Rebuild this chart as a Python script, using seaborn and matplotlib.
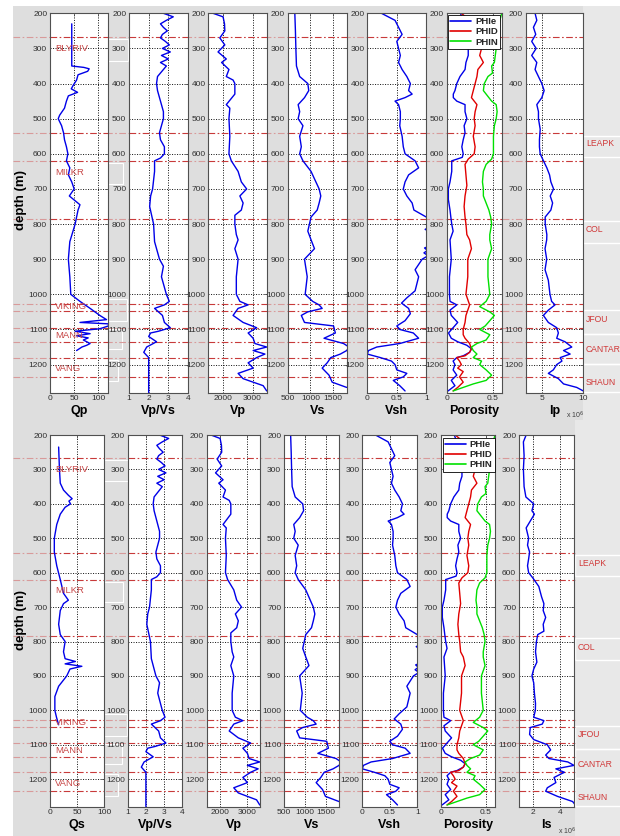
import numpy as np
import matplotlib
matplotlib.use("Agg")
import matplotlib.pyplot as plt
import matplotlib.transforms as mtransforms
from matplotlib.lines import Line2D
from matplotlib.patches import Rectangle
import seaborn as sns

# ---------------- data ----------------
Qp_depth = [230, 350, 354, 358, 365, 375, 390, 405, 415, 425, 435, 450, 470, 490, 500, 520, 540, 560, 580, 600,
            620, 640, 660, 680, 700, 720, 745, 760, 780, 800, 850, 900, 950, 1000, 1020, 1040, 1060, 1072, 1080, 1084,
            1090, 1098, 1105, 1112, 1118, 1124, 1130, 1140, 1145, 1150, 1160]
Qp_vals = [45, 45, 70, 81, 78, 58, 55, 48, 44, 57, 38, 34, 30, 20, 17, 24, 28, 30, 34, 37,
           34, 41, 38, 45, 50, 40, 62, 58, 55, 52, 41, 38, 41, 43, 62, 83, 103, 117, 62, 121,
           121, 103, 52, 83, 55, 79, 69, 83, 76, 66, 55]

Qs_depth = [235, 300, 340, 360, 375, 385, 392, 400, 410, 430, 460, 500, 540, 580, 620, 640, 660, 680, 690, 710,
            750, 780, 800, 830, 850, 858, 865, 872, 880, 900, 930, 960, 1000, 1020, 1042]
Qs_vals = [16, 17.5, 19, 25, 34, 41, 35, 38, 28, 19, 12.5, 8, 8, 12.5, 19, 22, 25, 34, 25, 19,
           16, 19, 28, 25, 28, 47, 28, 59, 37, 31, 16, 9, 9, 12, 16]

VpVs_depth = [200, 210, 220, 230, 240, 250, 260, 270, 280, 290, 300, 310, 320, 330, 340, 350, 360, 380, 400, 420,
              440, 460, 480, 500, 520, 540, 560, 580, 600, 612, 620, 650, 700, 720, 750, 800, 850, 900, 920, 950,
              1000, 1020, 1030, 1040, 1060, 1080, 1095, 1105, 1110, 1120, 1135, 1150, 1165, 1180, 1280]
VpVs_vals = [2.75, 3.25, 2.9, 2.6, 2.75, 2.95, 2.7, 2.6, 2.85, 3.05, 2.7, 3.1, 2.65, 3.0, 2.6, 2.9, 2.75, 2.45, 2.4, 2.45,
             2.55, 2.65, 2.75, 2.75, 2.65, 2.55, 2.6, 2.8, 2.8, 2.6, 2.3, 2.3, 2.2, 2.1, 2.05, 2.25, 2.3, 2.55, 2.75, 2.65,
             2.9, 3.05, 2.8, 2.3, 2.7, 2.8, 3.1, 2.5, 2.1, 2.0, 2.4, 1.9, 1.75, 2.0, 2.0]

Vp_depth = [200, 210, 230, 250, 270, 290, 310, 330, 340, 360, 380, 390, 400, 430, 460, 470, 500, 550, 600, 620,
            650, 680, 700, 720, 740, 760, 775, 800, 830, 845, 870, 900, 950, 1000, 1020, 1030, 1040, 1060, 1080, 1095,
            1110, 1125, 1140, 1150, 1160, 1170, 1180, 1195, 1210, 1225, 1240, 1260, 1275]
Vp_vals = [1660, 2000, 2050, 2060, 1890, 2060, 1830, 2110, 1950, 2200, 2110, 2340, 2400, 2400, 2110, 2230, 2200, 2230, 2200, 2280,
           2510, 2620, 2800, 2570, 2680, 2620, 2400, 2400, 2450, 2510, 2400, 2510, 2450, 2450, 2570, 2850, 2510, 2340, 2680, 3140,
           2850, 3020, 3080, 3480, 3020, 3420, 3140, 2850, 3020, 2510, 2680, 3360, 3480]

Vs_depth = [200, 250, 300, 350, 380, 400, 420, 440, 460, 480, 500, 520, 550, 580, 600, 620, 650, 680, 700, 720,
            740, 760, 780, 800, 820, 845, 870, 900, 950, 1000, 1020, 1030, 1040, 1050, 1060, 1080, 1090, 1110, 1125, 1140,
            1150, 1160, 1170, 1180, 1195, 1210, 1230, 1250, 1265]
Vs_vals = [657, 670, 680, 693, 764, 943, 964, 871, 730, 764, 730, 836, 764, 800, 764, 836, 1014, 1121, 1193, 1229,
           1193, 1150, 1014, 979, 943, 1015, 1090, 870, 930, 885, 1050, 1190, 1260, 940, 800, 870, 1510, 1550, 1300, 1730,
           1850, 1800, 1660, 1450, 1370, 1260, 1410, 1480, 1800]

Vsh_depth = [200, 220, 240, 260, 280, 300, 320, 340, 360, 380, 400, 420, 430, 440, 450, 460, 480, 500, 520, 550,
             580, 600, 620, 640, 660, 680, 700, 720, 740, 760, 780, 790, 805, 815, 825, 860, 868, 875, 882, 890,
             900, 930, 950, 970, 990, 1010, 1025, 1040, 1055, 1075, 1090, 1100, 1110, 1125, 1140, 1150, 1160, 1170, 1180, 1190,
             1200, 1215, 1225, 1235, 1245, 1260, 1275]
Vsh_vals = [0.24, 0.47, 0.53, 0.59, 0.5, 0.53, 0.56, 0.53, 0.59, 0.67, 0.73, 0.7, 0.76, 0.64, 0.47, 0.53, 0.56, 0.56, 0.55, 0.59,
            0.61, 0.64, 0.81, 0.87, 0.7, 0.64, 0.61, 0.67, 0.76, 0.79, 1.0, 1.1, 1.1, 0.98, 1.1, 1.1, 0.97, 1.02, 0.96, 1.03,
            0.93, 0.81, 0.87, 0.84, 0.81, 0.67, 0.58, 0.7, 0.73, 0.64, 0.5, 0.55, 0.78, 0.87, 0.55, 0.16, 0.02, 0.0, 0.22, 0.41,
            0.47, 0.5, 0.67, 0.61, 0.44, 0.55, 0.64]

PHIe_depth = [200, 250, 300, 320, 340, 360, 380, 400, 420, 430, 440, 450, 460, 480, 500, 520, 540, 560, 580, 600,
              610, 620, 650, 680, 700, 730, 760, 780, 800, 820, 845, 900, 950, 1000, 1020, 1030, 1045, 1060, 1080, 1095,
              1110, 1125, 1135, 1145, 1155, 1165, 1175, 1180, 1190, 1200, 1215, 1230, 1245, 1260, 1275]
PHIe_vals = [0.15, 0.22, 0.235, 0.235, 0.21, 0.2, 0.145, 0.11, 0.09, 0.072, 0.072, 0.11, 0.2, 0.2, 0.22, 0.19, 0.2, 0.18, 0.165, 0.18,
             0.17, 0.055, 0.055, 0.036, 0.018, 0.018, 0.036, 0.045, 0.055, 0.07, 0.036, 0.05, 0.03, 0.03, 0.036, 0.11, 0.036, 0.05, 0.12, 0.07,
             0.02, 0.05, 0.12, 0.22, 0.27, 0.25, 0.18, 0.11, 0.07, 0.09, 0.07, 0.11, 0.05, 0.09, 0.015]

PHID_depth = [200, 230, 260, 300, 320, 340, 360, 380, 400, 420, 440, 460, 480, 500, 520, 550, 580, 600, 615, 630,
              660, 690, 720, 750, 780, 800, 830, 845, 870, 900, 950, 1000, 1030, 1060, 1080, 1100, 1115, 1125, 1140, 1155,
              1165, 1175, 1180, 1190, 1200, 1210, 1220, 1235, 1250, 1265, 1275]
PHID_vals = [0.16, 0.3, 0.36, 0.38, 0.36, 0.4, 0.34, 0.33, 0.31, 0.29, 0.27, 0.33, 0.31, 0.3, 0.31, 0.29, 0.31, 0.3, 0.235, 0.2,
             0.21, 0.22, 0.2, 0.19, 0.2, 0.21, 0.22, 0.25, 0.27, 0.23, 0.23, 0.21, 0.25, 0.21, 0.2, 0.18, 0.18, 0.2, 0.25, 0.27,
             0.25, 0.2, 0.11, 0.14, 0.16, 0.12, 0.18, 0.14, 0.18, 0.12, 0.07]

PHIN_depth = [200, 250, 300, 320, 340, 350, 370, 380, 400, 420, 430, 450, 460, 480, 500, 520, 550, 580, 600, 615,
              630, 650, 680, 700, 720, 740, 760, 780, 800, 830, 845, 870, 900, 950, 1000, 1020, 1035, 1050, 1060, 1075,
              1090, 1100, 1115, 1130, 1140, 1150, 1160, 1170, 1180, 1190, 1200, 1215, 1230, 1245, 1255, 1265, 1275]
PHIN_vals = [0.6, 0.55, 0.54, 0.53, 0.52, 0.49, 0.5, 0.45, 0.41, 0.4, 0.43, 0.49, 0.54, 0.55, 0.54, 0.52, 0.51, 0.51, 0.51, 0.49,
             0.43, 0.4, 0.39, 0.4, 0.4, 0.43, 0.46, 0.48, 0.49, 0.47, 0.47, 0.49, 0.45, 0.45, 0.47, 0.43, 0.36, 0.47, 0.52, 0.47,
             0.42, 0.36, 0.47, 0.43, 0.33, 0.27, 0.29, 0.33, 0.29, 0.38, 0.36, 0.43, 0.49, 0.43, 0.29, 0.18, 0.07]

Ip_depth = [200, 220, 240, 260, 280, 300, 320, 340, 360, 380, 400, 420, 440, 460, 480, 500, 530, 560, 580, 600,
            620, 640, 660, 680, 700, 720, 740, 760, 780, 800, 830, 845, 870, 900, 930, 960, 1000, 1020, 1030, 1045,
            1060, 1080, 1095, 1110, 1125, 1135, 1150, 1160, 1170, 1180, 1190, 1200, 1215, 1225, 1240, 1255, 1265, 1275]
Ip_1e6 = [4.14, 4.35, 3.94, 4.22, 3.73, 4.27, 3.73, 4.35, 4.14, 4.55, 4.96, 5.24, 4.96, 4.35, 4.55, 4.55, 4.76, 4.67, 4.67, 4.76,
          5.16, 5.57, 5.9, 6.06, 6.39, 5.98, 6.27, 6.06, 5.37, 5.37, 5.57, 5.55, 5.35, 5.55, 5.35, 5.75, 5.95, 6.15, 6.56, 5.75,
          5.15, 5.75, 6.77, 6.97, 6.77, 7.78, 8.6, 7.6, 8.4, 7.2, 7.4, 6.77, 6.36, 5.75, 6.97, 7.6, 9.2, 10.0]

Is_depth = [200, 220, 260, 300, 350, 380, 400, 420, 430, 450, 470, 500, 520, 540, 560, 580, 600, 615, 640, 670,
            690, 710, 730, 750, 770, 780, 800, 830, 860, 880, 900, 920, 950, 980, 1000, 1020, 1030, 1040, 1050, 1070,
            1085, 1100, 1115, 1130, 1140, 1150, 1160, 1170, 1180, 1195, 1210, 1225, 1235, 1250, 1265, 1275]
Is_1e6 = [1.52, 1.32, 1.37, 1.32, 1.37, 1.5, 2.07, 1.94, 2.12, 1.82, 1.52, 1.7, 1.62, 1.77, 1.7, 1.62, 1.7, 2.0, 2.44, 2.64,
          2.81, 2.76, 2.94, 2.76, 2.81, 2.36, 2.27, 2.2, 2.3, 2.07, 1.94, 2.07, 2.12, 2.2, 2.19, 2.07, 2.81, 2.69, 1.82, 1.77,
          2.07, 3.06, 3.3, 2.94, 3.18, 4.55, 5.0, 3.68, 4.3, 3.55, 3.68, 3.06, 2.94, 3.8, 4.9, 5.1]

formation_tops = [268, 542, 620, 785, 1027, 1048, 1095, 1135, 1180, 1235]
left_names = ["BLYRIV", "MILKR", "VIKING", "MANN", "VANG"]
left_depths = [300, 652, 1035, 1118, 1212]
right_names = ["LEAPK", "COL", "JFOU", "CANTAR", "SHAUN"]
right_depths = [572, 816, 1071, 1156, 1252]
legend_names = ["PHIe", "PHID", "PHIN"]

# ---------------- styling ----------------
sns.set_theme(style="white")
plt.rcParams['font.family'] = ['Liberation Sans Narrow', 'Liberation Sans', 'DejaVu Sans']

W, H = 620, 836
GRAY = '#dedede'
BLUE = '#0000e8'
RED = '#e00000'
GREEN = '#00e000'
TOPRED = '#c83a3a'
GAPRED = '#d89a9a'
DASHDOT = (0, (6, 2.2, 1.5, 2.2))

fig = plt.figure(figsize=(6.2, 8.36), dpi=100, facecolor='white')


def fx(x):
    return x / W


def fy(y):
    return 1 - y / H


fig.add_artist(Rectangle((fx(13), 0), fx(583) - fx(13), fy(6), transform=fig.transFigure,
                         facecolor=GRAY, edgecolor='none', zorder=-5))
fig.add_artist(Rectangle((fx(583), fy(420)), 1 - fx(583), fy(6) - fy(420), transform=fig.transFigure,
                         facecolor='#e8e8e8', edgecolor='none', zorder=-4))
fig.add_artist(Rectangle((fx(575), 0), 1 - fx(575), fy(420), transform=fig.transFigure,
                         facecolor='#e8e8e8', edgecolor='none', zorder=-4))


def trace(ax, vals, depth, color):
    sns.lineplot(x=vals, y=depth, orient='y', sort=False, estimator=None,
                 color=color, lw=1.0, ax=ax, legend=False)


def style(ax, xlim, xticks, xticklabels, xlabel):
    ax.set_xlim(*xlim)
    ax.set_ylim(1280, 200)
    ax.set_xticks(xticks)
    ax.set_xticklabels(xticklabels)
    ax.set_yticks(range(200, 1201, 100))
    ax.set_facecolor('white')
    ax.grid(True, color='black', ls=(0, (1.3, 1.7)), lw=0.6)
    for s in ax.spines.values():
        s.set_visible(True)
        s.set_color('#505050')
        s.set_linewidth(0.8)
    ax.tick_params(direction='in', length=2.5, width=0.6, colors='#505050', labelcolor='#303030',
                   labelsize=6, pad=2, top=True, right=True, labeltop=False, labelright=False)
    ax.set_xlabel(xlabel, fontsize=9, fontweight='bold', labelpad=2, color='black')
    ax.set_ylabel('')
    for d in formation_tops:
        ax.axhline(d, color=TOPRED, lw=0.8, ls=DASHDOT, zorder=1.5)


rows = [
    dict(top=13.3, bottom=392.7, strip=583,
         boxes=[(50, 108), (129, 188), (208.3, 267.3), (287.7, 346.7), (367.3, 426.3), (446.7, 501.7), (525.7, 583.3)],
         first=('Qp', Qp_vals, Qp_depth, (0, 120)), last=('Ip', Ip_1e6, Ip_depth, (3, 10), [5, 10], ['5', '10']),
         legend_box=(448, 15), depth_y=200, offset=(566, 415)),
    dict(top=435, bottom=806.7, strip=575,
         boxes=[(50, 104), (127.7, 182.3), (206.7, 260.3), (284, 339), (362.3, 417.3), (440.7, 495), (519, 574)],
         first=('Qs', Qs_vals, Qs_depth, (0, 100)), last=('Is', Is_1e6, Is_depth, (1, 5), [2, 4], ['2', '4']),
         legend_box=(442.7, 437.7), depth_y=620, offset=(558, 831)),
]

label_box_depths = [(273, 335), (626, 685), (1012, 1075), (1098, 1155), (1186, 1248)]
label_box_right = [128, 123, 127, 122, 118]
strip_boxes = [(549, 609), (790, 853), (1046, 1112), (1112, 1197), (1197, 1279)]

for row in rows:
    axes = []
    for (l, r) in row['boxes']:
        axes.append(fig.add_axes([fx(l), fy(row['bottom']), (r - l) / W, (row['bottom'] - row['top']) / H]))
    a_q, a_vpvs, a_vp, a_vs, a_vsh, a_por, a_imp = axes

    name, qv, qd, qlim = row['first']
    trace(a_q, qv, qd, BLUE)
    style(a_q, qlim, [0, 50, 100], ['0', '50', '100'], name)

    trace(a_vpvs, VpVs_vals, VpVs_depth, BLUE)
    style(a_vpvs, (1, 4), [1, 2, 3, 4], ['1', '2', '3', '4'], 'Vp/Vs')

    trace(a_vp, Vp_vals, Vp_depth, BLUE)
    style(a_vp, (1500, 3500), [2000, 3000], ['2000', '3000'], 'Vp')

    trace(a_vs, Vs_vals, Vs_depth, BLUE)
    style(a_vs, (500, 1800), [500, 1000, 1500], ['500', '1000', '1500'], 'Vs')

    trace(a_vsh, Vsh_vals, Vsh_depth, BLUE)
    style(a_vsh, (0, 1), [0, 0.5, 1], ['0', '0.5', '1'], 'Vsh')

    trace(a_por, PHIe_vals, PHIe_depth, BLUE)
    trace(a_por, PHID_vals, PHID_depth, RED)
    trace(a_por, PHIN_vals, PHIN_depth, GREEN)
    style(a_por, (0, 0.6), [0, 0.5], ['0', '0.5'], 'Porosity')
    handles = [Line2D([], [], color=c, lw=1.2) for c in (BLUE, RED, GREEN)]
    lx, ly = row['legend_box']
    leg = a_por.legend(handles, legend_names, loc='upper left', bbox_to_anchor=(fx(lx), fy(ly)),
                       bbox_transform=fig.transFigure, prop={'size': 6.8, 'weight': 'bold'},
                       frameon=True, fancybox=False, framealpha=1, edgecolor='black', borderpad=0.25,
                       labelspacing=0.12, handlelength=2.2, handletextpad=0.4, borderaxespad=0)
    leg.get_frame().set_linewidth(0.6)

    iname, iv, idp, ilim, iticks, ilabels = row['last']
    trace(a_imp, iv, idp, BLUE)
    style(a_imp, ilim, iticks, ilabels, iname)

    ox, oy = row['offset']
    fig.text(fx(ox), fy(oy), r'x 10$^6$', fontsize=5, color='#404040', ha='left', va='center')

    fig.text(fx(21), fy(row['depth_y']), 'depth (m)', rotation=90, fontsize=9.5, fontweight='bold',
             ha='center', va='center', color='black')

    # formation names inside first panel
    for nm, d in zip(left_names, left_depths):
        a_q.text(0.09, d, nm, transform=mtransforms.blended_transform_factory(a_q.transAxes, a_q.transData),
                 color='#c84848', fontsize=6.8, va='center', ha='left', zorder=4)

    blend = mtransforms.blended_transform_factory(fig.transFigure, a_q.transData)
    # formation lines across the whole figure (visible in the gaps)
    for d in formation_tops:
        fig.add_artist(Line2D([fx(13), fx(row['strip'])], [d, d], transform=blend,
                              color=GAPRED, lw=0.8, ls=DASHDOT, zorder=-1))
    # white text-box outlines next to the first panel
    for (d1, d2), rr in zip(label_box_depths, label_box_right):
        fig.add_artist(Rectangle((fx(52), d1), fx(rr) - fx(52), d2 - d1, transform=blend,
                                 facecolor='none', edgecolor='white', lw=0.8, zorder=-2))
    # right strip labels
    for (d1, d2) in strip_boxes:
        fig.add_artist(Rectangle((fx(row['strip']), d1), 1.02 - fx(row['strip']), d2 - d1, transform=blend,
                                 facecolor='none', edgecolor='white', lw=1.0, zorder=-2))
    for nm, d in zip(right_names, right_depths):
        fig.text(fx(row['strip'] + 3), d, nm, transform=blend, color='#d03838', fontsize=6.2,
                 ha='left', va='center')

fig.savefig('out.png', dpi=100, facecolor=fig.get_facecolor())
